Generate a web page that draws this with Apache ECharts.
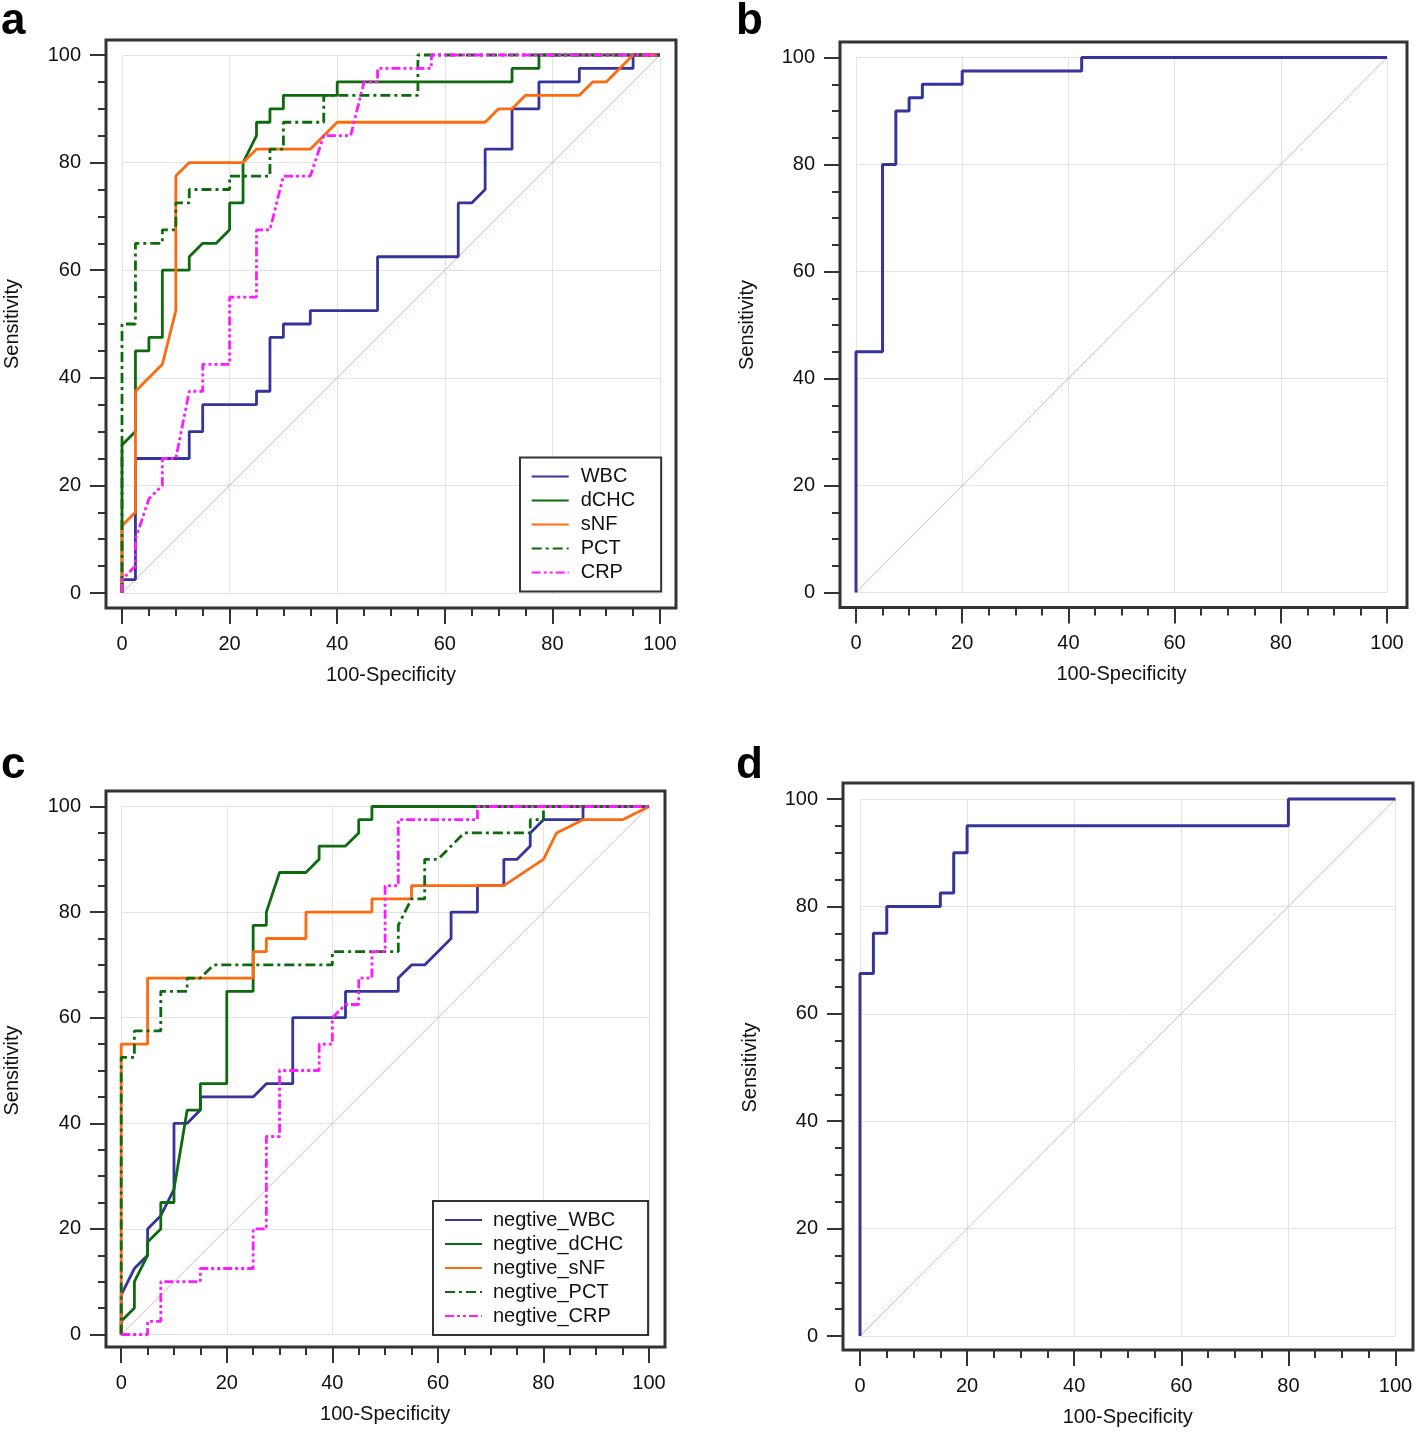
<!DOCTYPE html>
<html><head><meta charset="utf-8">
<script src="https://cdn.jsdelivr.net/npm/echarts@6/dist/echarts.min.js"></script>
<style>html,body{margin:0;padding:0;background:#fff}#c{width:1418px;height:1432px}</style>
</head><body><div id="c"></div>
<script>
// ---------- DATA ----------
const axisTicks = [0, 20, 40, 60, 80, 100];
const xAxisTitle = '100-Specificity';
const yAxisTitle = 'Sensitivity';
const panelLetters = ['a', 'b', 'c', 'd'];
const namesA = ['WBC', 'dCHC', 'sNF', 'PCT', 'CRP'];
const namesC = ['negtive_WBC', 'negtive_dCHC', 'negtive_sNF', 'negtive_PCT', 'negtive_CRP'];
const nameB = 'ROC_b';
const nameD = 'ROC_d';
const diagonal = [[0, 0], [100, 100]];

// panel a
const wbcA = [[0,0],[0,2.5],[2.5,2.5],[2.5,25],[12.5,25],[12.5,30],[15,30],[15,35],[25,35],[25,37.5],[27.5,37.5],[27.5,47.5],[30,47.5],[30,50],[35,50],[35,52.5],[47.5,52.5],[47.5,62.5],[62.5,62.5],[62.5,72.5],[65,72.5],[67.5,75],[67.5,82.5],[72.5,82.5],[72.5,90],[77.5,90],[77.5,95],[85,95],[85,97.5],[95,97.5],[95,100],[100,100]];
const dchcA = [[0,0],[0,27.5],[2.5,30],[2.5,45],[5,45],[5,47.5],[7.5,47.5],[7.5,60],[12.5,60],[12.5,62.5],[15,65],[17.5,65],[20,67.5],[20,72.5],[22.5,72.5],[22.5,80],[25,85],[25,87.5],[27.5,87.5],[27.5,90],[30,90],[30,92.5],[40,92.5],[40,95],[72.5,95],[72.5,97.5],[77.5,97.5],[77.5,100],[100,100]];
const snfA = [[0,0],[0,12.5],[2.5,15],[2.5,37.5],[7.5,42.5],[10,52.5],[10,77.5],[12.5,80],[22.5,80],[25,82.5],[35,82.5],[40,87.5],[67.5,87.5],[70,90],[72.5,90],[75,92.5],[85,92.5],[87.5,95],[90,95],[95,100],[100,100]];
const pctA = [[0,0],[0,50],[2.5,50],[2.5,65],[7.5,65],[7.5,67.5],[10,67.5],[10,72.5],[12.5,72.5],[12.5,75],[20,75],[20,77.5],[27.5,77.5],[27.5,82.5],[30,82.5],[30,87.5],[37.5,87.5],[37.5,92.5],[55,92.5],[55,100],[100,100]];
const crpA = [[0,0],[0,2.5],[2.5,5],[2.5,10],[5,17.5],[7.5,20],[7.5,25],[10,25],[12.5,37.5],[15,37.5],[15,42.5],[20,42.5],[20,55],[25,55],[25,67.5],[27.5,67.5],[30,77.5],[35,77.5],[37.5,85],[42.5,85],[45,95],[47.5,95],[47.5,97.5],[57.5,97.5],[57.5,100],[100,100]];

// panel b
const rocB = [[0,0],[0,45],[5,45],[5,80],[7.5,80],[7.5,90],[10,90],[10,92.5],[12.5,92.5],[12.5,95],[20,95],[20,97.5],[42.5,97.5],[42.5,100],[100,100]];

// panel c
const wbcC = [[0,0],[0,7.5],[2.5,12.5],[5,15],[5,20],[7.5,22.5],[10,27.5],[10,40],[12.5,40],[15,42.5],[15,45],[25,45],[27.5,47.5],[32.5,47.5],[32.5,60],[42.5,60],[42.5,65],[52.5,65],[52.5,67.5],[55,70],[57.5,70],[62.5,75],[62.5,80],[67.5,80],[67.5,85],[72.5,85],[72.5,90],[75,90],[77.5,92.5],[77.5,95],[80,97.5],[87.5,97.5],[87.5,100],[100,100]];
const dchcC = [[0,0],[0,2.5],[2.5,5],[2.5,10],[5,15],[5,17.5],[7.5,20],[7.5,25],[10,25],[10,27.5],[12.5,42.5],[15,42.5],[15,47.5],[20,47.5],[20,65],[25,65],[25,77.5],[27.5,77.5],[27.5,80],[30,87.5],[35,87.5],[37.5,90],[37.5,92.5],[42.5,92.5],[45,95],[45,97.5],[47.5,97.5],[47.5,100],[100,100]];
const snfC = [[0,0],[0,55],[5,55],[5,67.5],[25,67.5],[25,72.5],[27.5,72.5],[27.5,75],[35,75],[35,80],[47.5,80],[47.5,82.5],[55,82.5],[55,85],[72.5,85],[80,90],[82.5,95],[87.5,97.5],[95,97.5],[100,100]];
const pctC = [[0,0],[0,52.5],[2.5,52.5],[2.5,57.5],[7.5,57.5],[7.5,65],[12.5,65],[12.5,67.5],[15,67.5],[17.5,70],[40,70],[40,72.5],[52.5,72.5],[52.5,77.5],[55,82.5],[57.5,82.5],[57.5,90],[60,90],[65,95],[77.5,95],[77.5,97.5],[80,97.5],[80,100],[100,100]];
const crpC = [[0,0],[5,0],[5,2.5],[7.5,2.5],[7.5,10],[15,10],[15,12.5],[25,12.5],[25,20],[27.5,20],[27.5,37.5],[30,37.5],[30,50],[37.5,50],[37.5,55],[40,55],[40,60],[42.5,62.5],[45,62.5],[45,67.5],[47.5,67.5],[47.5,72.5],[50,72.5],[50,85],[52.5,85],[52.5,97.5],[67.5,97.5],[67.5,100],[100,100]];

// panel d
const rocD = [[0,0],[0,67.5],[2.5,67.5],[2.5,75],[5,75],[5,80],[15,80],[15,82.5],[17.5,82.5],[17.5,90],[20,90],[20,95],[80,95],[80,100],[100,100]];

// ---------- STYLE / LAYOUT ----------
const FONT = '"Liberation Sans", Arial, sans-serif';
const C_BLUE = '#34349c', C_GREEN = '#0d6b0d', C_ORANGE = '#ff6a0e', C_MAG = '#ff1aff', C_DIAG = '#dcb5b5';
const DASHDOT = [10, 4, 3, 4];
const DASHDOTDOT = [9, 3, 3, 3, 3, 3];

const panels = [
  { X0: 122,   X1: 660,    Yt: 55,    Yb: 593,    F: [106, 40, 676, 608],   L: [1, 22] },
  { X0: 856,   X1: 1387,   Yt: 57.5,  Yb: 592.5,  F: [840, 42, 1407, 607.5], L: [736, 22] },
  { X0: 121.2, X1: 649,    Yt: 806.5, Yb: 1334.5, F: [106, 791, 665, 1347], L: [1, 766] },
  { X0: 860,   X1: 1395.5, Yt: 799,   Yb: 1336,   F: [843, 783, 1413, 1350], L: [736, 766] }
];

function line(name, data, gi, color, type, width) {
  return {
    name, type: 'line', xAxisIndex: gi, yAxisIndex: gi, data,
    symbol: 'none', showSymbol: false, clip: false, animation: false, silent: true,
    lineStyle: { color, width, type }, itemStyle: { color },
    emphasis: { disabled: true }
  };
}

const series = [];
[0,1,2,3].forEach(i => series.push(line('diag' + i, diagonal, i, C_DIAG, 'solid', 1)));
const lw = 2.8;
series.push(line(namesA[0], wbcA, 0, C_BLUE, 'solid', lw));
series.push(line(namesA[1], dchcA, 0, C_GREEN, 'solid', lw));
series.push(line(namesA[2], snfA, 0, C_ORANGE, 'solid', lw));
series.push(line(namesA[3], pctA, 0, C_GREEN, DASHDOT, lw));
series.push(line(namesA[4], crpA, 0, C_MAG, DASHDOTDOT, lw));
series.push(line(nameB, rocB, 1, C_BLUE, 'solid', 3));
series.push(line(namesC[0], wbcC, 2, C_BLUE, 'solid', lw));
series.push(line(namesC[1], dchcC, 2, C_GREEN, 'solid', lw));
series.push(line(namesC[2], snfC, 2, C_ORANGE, 'solid', lw));
series.push(line(namesC[3], pctC, 2, C_GREEN, DASHDOT, lw));
series.push(line(namesC[4], crpC, 2, C_MAG, DASHDOTDOT, lw));
series.push(line(nameD, rocD, 3, C_BLUE, 'solid', 3));

const tickStyle = { color: '#333', width: 2 };
const labelStyle = { fontSize: 20, color: '#111', fontFamily: FONT };

const option = {
  backgroundColor: '#fff',
  animation: false,
  grid: panels.map(p => ({
    left: p.X0, top: p.Yt, width: p.X1 - p.X0, height: p.Yb - p.Yt,
    containLabel: false, outerBoundsMode: 'none', show: false
  })),
  xAxis: panels.map((p, i) => ({
    type: 'value', gridIndex: i, position: 'bottom',
    min: axisTicks[0], max: axisTicks[axisTicks.length - 1], interval: axisTicks[1] - axisTicks[0],
    offset: p.F[3] - p.Yb,
    axisLine: { show: false, onZero: false },
    axisTick: { show: true, inside: false, length: 16, lineStyle: tickStyle },
    minorTick: { show: true, splitNumber: 4, length: 8, lineStyle: tickStyle },
    splitLine: { show: true, lineStyle: { color: '#e2e2e8', width: 1 } },
    minorSplitLine: { show: false },
    axisLabel: Object.assign({ margin: 26, showMinLabel: true, showMaxLabel: true, hideOverlap: false }, labelStyle),
    name: xAxisTitle, nameLocation: 'middle', nameGap: 57,
    nameTextStyle: { fontSize: 20, color: '#111', fontFamily: FONT }
  })),
  yAxis: panels.map((p, i) => ({
    type: 'value', gridIndex: i, position: 'left',
    min: axisTicks[0], max: axisTicks[axisTicks.length - 1], interval: axisTicks[1] - axisTicks[0],
    offset: p.X0 - p.F[0],
    axisLine: { show: false, onZero: false },
    axisTick: { show: true, inside: false, length: 16, lineStyle: tickStyle },
    minorTick: { show: true, splitNumber: 4, length: 8, lineStyle: tickStyle },
    splitLine: { show: true, lineStyle: { color: '#e2e2e8', width: 1 } },
    minorSplitLine: { show: false },
    axisLabel: Object.assign({ margin: 25, showMinLabel: true, showMaxLabel: true, hideOverlap: false }, labelStyle),
    name: yAxisTitle, nameLocation: 'middle', nameGap: (i % 2 === 0) ? 84 : 83,
    nameTextStyle: { fontSize: 20, color: '#111', fontFamily: FONT }
  })),
  legend: [
    {
      data: namesA, orient: 'vertical', left: 520, top: 457.5,
      itemWidth: 37, itemHeight: 14, itemGap: 4,
      padding: [9, 26, 9, 10.7],
      borderColor: '#333', borderWidth: 2, backgroundColor: '#fff',
      selectedMode: false, lineStyle: { width: 2 }, itemStyle: { opacity: 0 },
      textStyle: { fontSize: 20, color: '#111', fontFamily: FONT, padding: [0, 0, 0, 7] }
    },
    {
      data: namesC, orient: 'vertical', left: 433, top: 1201,
      itemWidth: 37, itemHeight: 14, itemGap: 4,
      padding: [9, 25, 9, 11],
      borderColor: '#333', borderWidth: 2, backgroundColor: '#fff',
      selectedMode: false, lineStyle: { width: 2 }, itemStyle: { opacity: 0 },
      textStyle: { fontSize: 20, color: '#111', fontFamily: FONT, padding: [0, 0, 0, 6] }
    }
  ],
  graphic: panels.map(p => ({
    type: 'rect', silent: true, z: 5,
    shape: { x: p.F[0], y: p.F[1], width: p.F[2] - p.F[0], height: p.F[3] - p.F[1] },
    style: { fill: 'none', stroke: '#333', lineWidth: 3 }
  })).concat(panels.map((p, i) => ({
    type: 'text', silent: true, x: p.L[0], y: p.L[1], z: 5,
    style: { text: panelLetters[i], font: 'bold 44px ' + FONT, fill: '#000', verticalAlign: 'middle', textVerticalAlign: 'middle' }
  }))),
  series
};

const chart = echarts.init(document.getElementById('c'), null, { renderer: 'canvas' });
chart.setOption(option);
</script>
</body></html>
